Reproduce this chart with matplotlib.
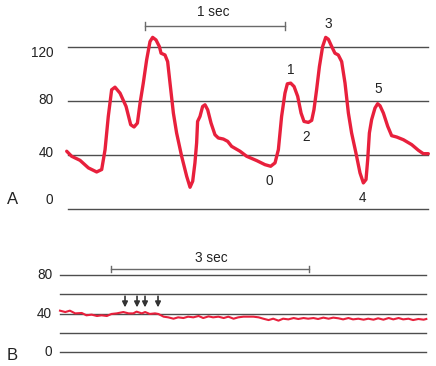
import matplotlib
matplotlib.use("Agg")
import matplotlib.pyplot as plt

plt.rcParams['font.family'] = ['Liberation Sans', 'DejaVu Sans']

# ---------- Panel A data (time in s, pressure in mmHg) ----------
a_time = [0.005, 0.040, 0.100, 0.160, 0.219, 0.255, 0.279, 0.302, 0.326, 0.350,
          0.386, 0.429, 0.462, 0.486, 0.510, 0.529, 0.552, 0.576, 0.600, 0.619,
          0.643, 0.667, 0.679, 0.707, 0.726, 0.743, 0.767, 0.790, 0.826, 0.862,
          0.886, 0.905, 0.921, 0.933, 0.940, 0.957, 0.976, 0.993, 1.012, 1.036,
          1.064, 1.088, 1.124, 1.155, 1.183, 1.243, 1.290, 1.362, 1.421, 1.462,
          1.493, 1.517, 1.540, 1.564, 1.581, 1.605, 1.629, 1.655, 1.679, 1.700,
          1.731, 1.755, 1.771, 1.790, 1.810, 1.833, 1.855, 1.874, 1.898, 1.921,
          1.945, 1.969, 1.993, 2.017, 2.040, 2.071, 2.100, 2.124, 2.143, 2.155,
          2.167, 2.183, 2.207, 2.226, 2.243, 2.267, 2.298, 2.326, 2.362, 2.410,
          2.469, 2.517, 2.552, 2.588]
a_pressure = [43.0, 39.3, 36.3, 30.7, 27.7, 29.5, 44.2, 68.7, 88.4, 90.3,
              85.9, 76.1, 62.6, 60.9, 63.8, 78.5, 93.3, 110.5, 124.0, 127.1,
              125.2, 120.3, 115.4, 114.1, 109.2, 93.3, 71.2, 56.5, 39.3, 24.5,
              16.4, 20.9, 34.4, 49.1, 65.0, 68.7, 76.1, 77.3, 73.6, 63.8,
              55.2, 52.8, 52.0, 50.3, 46.6, 43.0, 39.3, 36.1, 33.1, 31.9,
              34.4, 44.2, 68.7, 85.9, 92.8, 93.3, 90.8, 83.5, 71.2, 65.0,
              64.3, 65.8, 73.6, 88.4, 105.5, 120.3, 127.1, 125.7, 120.3, 115.4,
              114.1, 109.2, 93.3, 71.2, 56.5, 41.7, 27.0, 19.6, 22.1, 36.8,
              56.5, 66.3, 74.9, 78.1, 76.6, 71.2, 61.4, 54.5, 53.5, 51.5,
              47.9, 43.7, 41.2, 41.2]
a_grid_levels = [0, 40, 80, 120]
a_tick_labels = ["0", "40", "80", "120"]
a_point_labels = ["0", "1", "2", "3", "4", "5"]

# ---------- Panel B data ----------
b_time = [0.00, 0.08, 0.15, 0.23, 0.33, 0.40, 0.48, 0.56, 0.63, 0.71,
          0.78, 0.86, 0.96, 1.04, 1.11, 1.16, 1.24, 1.29, 1.36, 1.44,
          1.49, 1.57, 1.64, 1.72, 1.79, 1.87, 1.94, 2.02, 2.10, 2.17,
          2.25, 2.32, 2.40, 2.48, 2.55, 2.63, 2.70, 2.78, 2.85, 2.93,
          3.01, 3.08, 3.16, 3.23, 3.31, 3.38, 3.46, 3.54, 3.61, 3.69,
          3.76, 3.84, 3.91, 3.99, 4.07, 4.14, 4.22, 4.29, 4.37, 4.44,
          4.52, 4.60, 4.67, 4.75, 4.82, 4.90, 4.98, 5.05, 5.13, 5.20,
          5.28, 5.35, 5.43, 5.51, 5.55]
b_pressure = [43.1, 41.7, 43.1, 40.3, 40.7, 38.3, 39.0, 37.6, 38.3, 37.6,
              39.7, 40.3, 41.7, 40.3, 40.3, 42.1, 40.3, 41.7, 39.7, 40.3,
              39.7, 36.9, 36.2, 34.8, 36.2, 35.5, 36.9, 36.2, 37.6, 35.5,
              37.2, 36.2, 36.9, 35.5, 36.9, 34.8, 36.2, 36.9, 36.9, 36.9,
              36.2, 34.8, 33.4, 34.8, 32.8, 34.8, 34.1, 35.5, 34.5, 35.5,
              34.8, 35.5, 34.5, 35.9, 34.8, 35.9, 35.2, 34.1, 35.5, 34.1,
              34.8, 33.8, 34.8, 33.8, 35.2, 33.8, 35.5, 34.1, 35.5, 34.1,
              34.8, 33.4, 34.5, 33.8, 34.5]
b_grid_levels = [0, 20, 40, 60, 80]
b_tick_labels = {0: "0", 40: "40", 80: "80"}
b_arrow_times = [0.985, 1.167, 1.288, 1.485]

RED = '#e8203c'
GRID = '#4d4d4d'
BAR = '#6a6a6a'
TXT = '#222222'

W, H = 436, 366
fig = plt.figure(figsize=(W / 100, H / 100), dpi=100)

# Panel A axes: pixel rows 0..236, full width
axA = fig.add_axes([0, (H - 236) / H, 1, 236 / H])
axA.set_xlim(-66 / 140, (436 - 66) / 140)
axA.set_ylim(-19.6, 154.7)
axA.axis('off')

for lvl in a_grid_levels:
    axA.plot([0.014, 2.586], [lvl, lvl], color=GRID, lw=1.0, zorder=1)
axA.plot(a_time, a_pressure, color=RED, lw=2.4, solid_joinstyle='round',
         solid_capstyle='round', zorder=3)

a_label_y = [7, 41.7, 80.9, 115.5]
for txt, yy in zip(a_tick_labels, a_label_y):
    axA.text(-0.09, yy, txt, ha='right', va='center', fontsize=9.8, color=TXT)
axA.text(-0.385, 7, "A", ha='center', va='center', fontsize=12, color=TXT)

point_pos = [(1.45, 21), (1.607, 103), (1.714, 53.5), (1.871, 137), (2.121, 8.5), (2.229, 89)]
for txt, (tx, ty) in zip(a_point_labels, point_pos):
    axA.text(tx, ty, txt, ha='center', va='center', fontsize=9.8, color=TXT)

# 1 sec scale bar
axA.plot([0.564, 1.564], [135.5, 135.5], color=BAR, lw=1.0)
for xx in (0.564, 1.564):
    axA.plot([xx, xx], [132.5, 138.5], color=BAR, lw=1.0)
axA.text(1.05, 146, "1 sec", ha='center', va='center', fontsize=9.8, color=TXT)

# Panel B axes: pixel rows 236..366
axB = fig.add_axes([0, 0, 1, 130 / H])
axB.set_xlim(-60 / 66, (436 - 60) / 66)
axB.set_ylim(-14.1, 120.3)
axB.axis('off')

for lvl in b_grid_levels:
    axB.plot([0, 5.545], [lvl, lvl], color=GRID, lw=1.0, zorder=1)
axB.plot(b_time, b_pressure, color=RED, lw=1.5, zorder=3)

for lvl, txt in b_tick_labels.items():
    axB.text(-0.12, lvl, txt, ha='right', va='center', fontsize=9.8, color=TXT)
axB.text(-0.727, -2.8, "B", ha='center', va='center', fontsize=12, color=TXT)

for tx in b_arrow_times:
    axB.annotate("", xy=(tx, 46.5), xytext=(tx, 58),
                 arrowprops=dict(arrowstyle='-|>', color='#333333', lw=1.2,
                                 mutation_scale=8, shrinkA=0, shrinkB=0))

# 3 sec scale bar
axB.plot([0.773, 3.773], [86.2, 86.2], color=BAR, lw=1.0)
for xx in (0.773, 3.773):
    axB.plot([xx, xx], [83.0, 89.4], color=BAR, lw=1.0)
axB.text(2.30, 97.6, "3 sec", ha='center', va='center', fontsize=9.8, color=TXT)

fig.savefig("out.png", dpi=100)
